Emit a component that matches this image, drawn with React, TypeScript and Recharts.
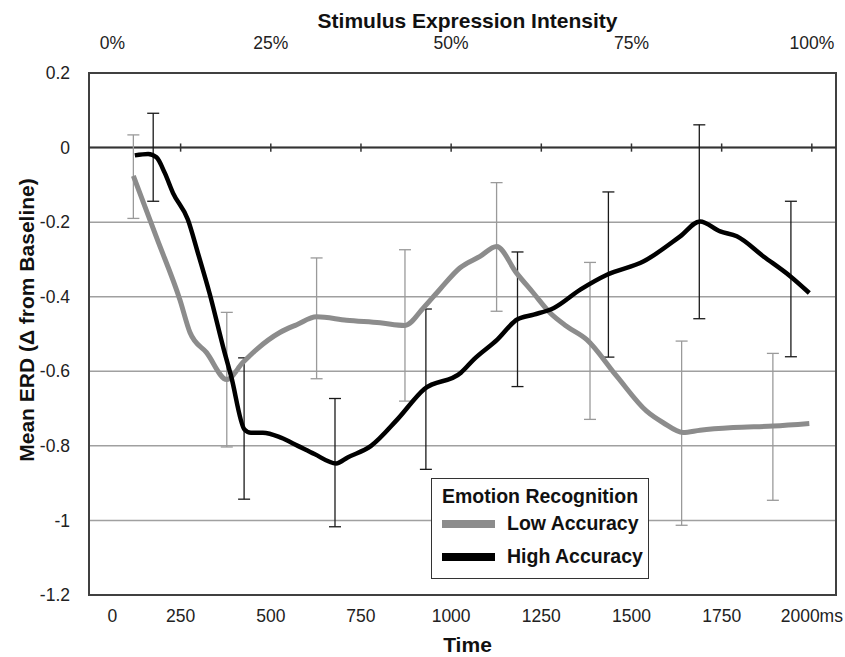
import React from "react";
import {
  ComposedChart,
  Line,
  Scatter,
  ErrorBar,
  XAxis,
  YAxis,
  CartesianGrid,
  ReferenceLine,
  ReferenceArea,
  Legend,
  Label,
} from "recharts";

// time in ms, mean ERD
const lowTimes = [119, 184, 248, 276, 322, 378, 423, 461, 525, 572, 627, 710, 803, 872, 923, 969, 1024, 1080, 1126, 1181, 1228, 1274, 1320, 1376, 1459, 1542, 1588, 1643, 1690, 1782, 1893, 1993];
const lowValues = [-0.076, -0.243, -0.408, -0.496, -0.55, -0.622, -0.576, -0.541, -0.496, -0.475, -0.454, -0.463, -0.47, -0.477, -0.43, -0.38, -0.323, -0.292, -0.265, -0.336, -0.39, -0.443, -0.479, -0.515, -0.613, -0.707, -0.738, -0.764, -0.758, -0.751, -0.747, -0.74];

const highTimes = [123, 160, 183, 206, 229, 270, 298, 330, 372, 390, 427, 445, 478, 528, 575, 621, 681, 713, 778, 851, 925, 1027, 1063, 1128, 1183, 1229, 1285, 1358, 1432, 1534, 1635, 1690, 1746, 1792, 1866, 1940, 1993];
const highValues = [-0.021, -0.017, -0.026, -0.068, -0.122, -0.193, -0.283, -0.39, -0.55, -0.613, -0.756, -0.765, -0.765, -0.778, -0.8, -0.822, -0.847, -0.831, -0.8, -0.729, -0.648, -0.604, -0.568, -0.515, -0.461, -0.448, -0.43, -0.381, -0.341, -0.305, -0.238, -0.198, -0.225, -0.238, -0.292, -0.345, -0.39];

// error bars: top and bottom ends
const lowErrTimes = [119, 378, 627, 872, 1126, 1385, 1639, 1892];
const lowErrTop = [0.034, -0.442, -0.296, -0.274, -0.094, -0.308, -0.519, -0.552];
const lowErrBottom = [-0.19, -0.803, -0.62, -0.68, -0.439, -0.729, -1.013, -0.946];

const highErrTimes = [174, 426, 678, 930, 1184, 1436, 1688, 1942];
const highErrTop = [0.092, -0.564, -0.673, -0.433, -0.28, -0.119, 0.061, -0.144];
const highErrBottom = [-0.144, -0.943, -1.017, -0.863, -0.641, -0.562, -0.459, -0.561];

const timeTicks = [0, 250, 500, 750, 1000, 1250, 1500, 1750, 2000];
const intensityTicks = [0, 500, 1000, 1500, 2000];
const intensityLabels = ["0%", "25%", "50%", "75%", "100%"];
const zeroLineTicks = [250, 500, 750, 1000, 1250, 1500, 1750, 2000];
const yTicks = [-1.2, -1, -0.8, -0.6, -0.4, -0.2, 0, 0.2];

const seriesNames = ["Low Accuracy", "High Accuracy"];
const LOW = "#8c8c8c";
const HIGH = "#000000";
const X_MIN = -4;
const X_MAX = 2067;

const lowData = lowTimes.map((t, i) => ({ t, v: lowValues[i] }));
const highData = highTimes.map((t, i) => ({ t, v: highValues[i] }));
const lowErr = lowErrTimes.map((t, i) => ({
  t,
  mid: (lowErrTop[i] + lowErrBottom[i]) / 2,
  err: (lowErrTop[i] - lowErrBottom[i]) / 2,
}));
const highErr = highErrTimes.map((t, i) => ({
  t,
  mid: (highErrTop[i] + highErrBottom[i]) / 2,
  err: (highErrTop[i] - highErrBottom[i]) / 2,
}));

const tickFont = "'Liberation Sans', Arial, sans-serif";
const boldFont = "'Liberation Sans', Arial, sans-serif";
const TICK_SIZE = 17.5;

const BottomTick = (props: any) => {
  const { x, y, payload } = props;
  const v = payload.value;
  return (
    <text x={x + (v === 0 ? 22 : 0)} y={y + 25} textAnchor="middle" fontSize={TICK_SIZE} fontFamily={tickFont} fill="#222">
      {v === 2000 ? "2000ms" : v}
    </text>
  );
};

const TopTick = (props: any) => {
  const { x, y, payload } = props;
  const v = payload.value;
  return (
    <text x={x + (v === 0 ? 22 : 0)} y={y - 22} textAnchor="middle" fontSize={TICK_SIZE} fontFamily={tickFont} fill="#222">
      {intensityLabels[intensityTicks.indexOf(v)]}
    </text>
  );
};

const YTitle = (props: any) => {
  const vb = props.viewBox;
  const cx = vb.x - 3;
  const cy = vb.y + vb.height / 2 - 14;
  return (
    <text x={cx} y={cy} transform={`rotate(-90 ${cx} ${cy})`} textAnchor="middle" dominantBaseline="central"
      fontSize={21} fontWeight="bold" fontFamily={boldFont} fill="#111">
      Mean ERD (Δ from Baseline)
    </text>
  );
};

const TopTitle = (props: any) => {
  const vb = props.viewBox;
  return (
    <text x={vb.x + vb.width / 2 + 5} y={28} textAnchor="middle" fontSize={21} fontWeight="bold" fontFamily={boldFont} fill="#111">
      Stimulus Expression Intensity
    </text>
  );
};

const BottomTitle = (props: any) => {
  const vb = props.viewBox;
  return (
    <text x={vb.x + vb.width / 2 + 5} y={652} textAnchor="middle" fontSize={21} fontWeight="bold" fontFamily={boldFont} fill="#111">
      Time
    </text>
  );
};

const LegendBox = () => (
  <div style={{ width: 218, height: 101, border: "1.5px solid #333", background: "#fff", fontFamily: boldFont, fontWeight: "bold", fontSize: 19.5, color: "#111", boxSizing: "border-box", padding: "6px 0 0 10px" }}>
    <div style={{ lineHeight: "22px" }}>Emotion Recognition</div>
    {[LOW, HIGH].map((c, i) => (
      <div key={i} style={{ display: "flex", alignItems: "center", height: 33 }}>
        <span style={{ display: "inline-block", width: 53, height: 8, background: c, marginRight: 12 }} />
        <span>{seriesNames[i]}</span>
      </div>
    ))}
  </div>
);

export default function App() {
  return (
    <div style={{ position: "absolute", left: 0, top: 0, background: "#fff" }}>
      <ComposedChart width={845} height={657} margin={{ top: 33, right: 9, bottom: 22, left: 29 }}>
        <CartesianGrid horizontal vertical={false} stroke="#a0a0a0" strokeWidth={1.5} />
        <XAxis dataKey="t" type="number" domain={[X_MIN, X_MAX]} ticks={timeTicks} height={40}
          axisLine={false} tickLine={false} tickSize={0} tick={<BottomTick />} allowDataOverflow>
          <Label content={<BottomTitle />} />
        </XAxis>
        <XAxis xAxisId="top" dataKey="t" orientation="top" type="number" domain={[X_MIN, X_MAX]} ticks={intensityTicks} height={40}
          axisLine={false} tickLine={false} tickSize={0} tick={<TopTick />} allowDataOverflow>
          <Label content={<TopTitle />} />
        </XAxis>
        <YAxis type="number" domain={[-1.2, 0.2]} ticks={yTicks} width={60} axisLine={false} tickLine={false}
          tickSize={0} tickMargin={19} tick={{ fontSize: TICK_SIZE, fontFamily: tickFont, fill: "#222" }} allowDataOverflow>
          <Label content={<YTitle />} />
        </YAxis>
        <ReferenceArea x1={X_MIN} x2={X_MAX} y1={-1.2} y2={0.2} fill="none" stroke="#404040" strokeWidth={2} />
        <ReferenceLine y={0} stroke="#333" strokeWidth={2} />
        {zeroLineTicks.map((t) => (
          <ReferenceLine key={t} xAxisId="top" segment={[{ x: t, y: -0.011 }, { x: t, y: 0.011 }]} stroke="#333" strokeWidth={1.5} />
        ))}
        <Scatter data={lowErr} dataKey="mid" shape={() => <g />} isAnimationActive={false} legendType="none">
          <ErrorBar dataKey="err" direction="y" stroke="#9a9a9a" strokeWidth={1.3} width={6} isAnimationActive={false} />
        </Scatter>
        <Scatter data={highErr} dataKey="mid" shape={() => <g />} isAnimationActive={false} legendType="none">
          <ErrorBar dataKey="err" direction="y" stroke="#1a1a1a" strokeWidth={1.3} width={6} isAnimationActive={false} />
        </Scatter>
        <Line xAxisId="top" data={lowData} dataKey="v" name={seriesNames[0]} type="monotone" stroke={LOW} strokeWidth={5}
          dot={false} activeDot={false} isAnimationActive={false} />
        <Line data={highData} dataKey="v" name={seriesNames[1]} type="monotone" stroke={HIGH} strokeWidth={4.5}
          dot={false} activeDot={false} isAnimationActive={false} />
        <Legend layout="vertical" align="center" verticalAlign="middle" content={<LegendBox />}
          wrapperStyle={{ left: 431, top: 478, width: 218, height: 101 }} />
      </ComposedChart>
    </div>
  );
}
